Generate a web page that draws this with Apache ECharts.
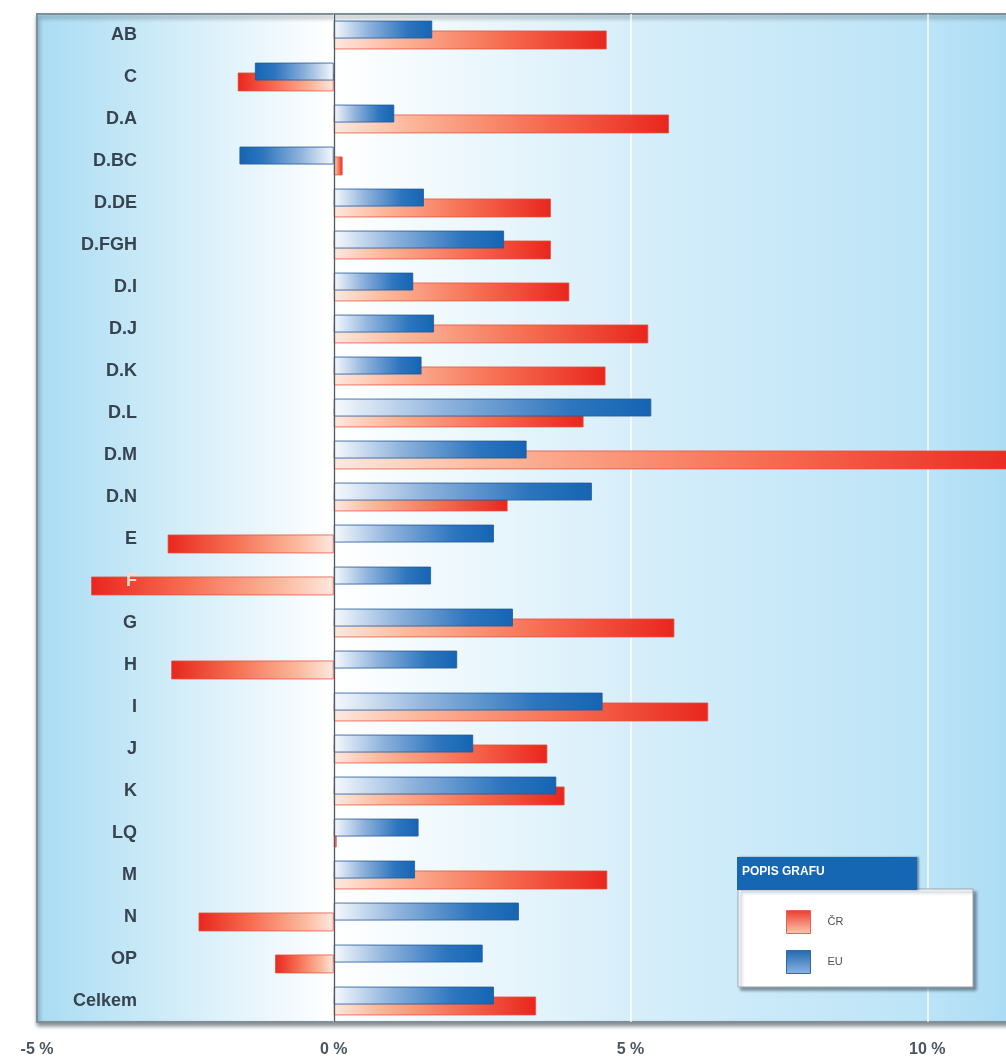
<!DOCTYPE html>
<html>
<head>
<meta charset="utf-8">
<title>Meziroční změna – ČR a EU</title>
<script src="https://cdn.jsdelivr.net/npm/echarts@6/dist/echarts.min.js"></script>
<style>
  html, body { margin: 0; padding: 0; background: #ffffff; }
  #chart { width: 1006px; height: 1060px; }
</style>
</head>
<body>
<div id="chart"></div>
<script>
// Odvětví (sekce a oddíly CZ-NACE)
const categories = ['AB', 'C', 'D.A', 'D.BC', 'D.DE', 'D.FGH', 'D.I', 'D.J', 'D.K', 'D.L',
  'D.M', 'D.N', 'E', 'F', 'G', 'H', 'I', 'J', 'K', 'LQ', 'M', 'N', 'OP', 'Celkem'];

// Hodnoty v procentech
const valuesCR = [4.60, -1.62, 5.65, 0.15, 3.66, 3.66, 3.97, 5.30, 4.58, 4.21,
  11.8, 2.93, -2.80, -4.09, 5.74, -2.74, 6.31, 3.60, 3.89, 0.05, 4.61, -2.28, -0.99, 3.41];
const valuesEU = [1.66, -1.33, 1.02, -1.59, 1.52, 2.87, 1.34, 1.69, 1.48, 5.35,
  3.25, 4.35, 2.70, 1.64, 3.02, 2.08, 4.53, 2.35, 3.75, 1.43, 1.37, 3.12, 2.51, 2.70];

// Popisky osy x
const xTicks = [-5, 0, 5, 10];

const FONT = "'Liberation Sans', Arial, sans-serif";
const LG = echarts.graphic.LinearGradient;

const crStops = [
  { offset: 0, color: '#fee9e0' },
  { offset: 0.22, color: '#fcb89c' },
  { offset: 0.62, color: '#f66c50' },
  { offset: 1, color: '#e8261e' }
];
const euStops = [
  { offset: 0, color: '#f6f9fd' },
  { offset: 0.35, color: '#8fb3dc' },
  { offset: 0.75, color: '#2d75be' },
  { offset: 1, color: '#1565b3' }
];

// Přechod barvy vždy od nuly (světlá) ke konci sloupce (sytá)
function barData(values, stops) {
  return values.map(function (v) {
    const grad = v >= 0 ? new LG(0, 0, 1, 0, stops) : new LG(1, 0, 0, 0, stops);
    return { value: v, itemStyle: { color: grad } };
  });
}

const chart = echarts.init(document.getElementById('chart'), null, { renderer: 'canvas' });

chart.setOption({
  animation: false,
  backgroundColor: '#ffffff',
  textStyle: { fontFamily: FONT },
  grid: {
    left: 37,
    top: 14,
    width: 1009,
    bottom: 38,
    outerBoundsMode: 'none',
    containLabel: false,
    show: true,
    borderColor: '#7f8f9a',
    borderWidth: 2,
    shadowColor: 'rgba(40,50,60,0.55)',
    shadowBlur: 4,
    shadowOffsetX: 1,
    shadowOffsetY: 3,
    backgroundColor: new LG(0, 0, 1, 0, [
      { offset: 0, color: '#a9dcf3' },
      { offset: 0.293, color: '#ffffff' },
      { offset: 0.59, color: '#d6eefa' },
      { offset: 0.88, color: '#bce4f7' },
      { offset: 1, color: '#a3d8f2' }
    ])
  },
  xAxis: {
    type: 'value',
    min: -5,
    max: 12,
    interval: 5,
    axisLine: { show: false },
    axisTick: { show: false },
    splitLine: {
      show: true,
      showMinLine: false,
      lineStyle: { color: 'rgba(255,255,255,0.9)', width: 1.5 }
    },
    axisLabel: {
      margin: 20,
      color: '#4a555f',
      fontSize: 16,
      fontWeight: 'bold',
      fontFamily: FONT,
      formatter: function (v) {
        return xTicks.indexOf(v) >= 0 ? v + ' %' : '';
      }
    }
  },
  yAxis: {
    type: 'category',
    inverse: true,
    data: categories,
    z: 6,
    axisLine: { show: false },
    axisTick: { show: false },
    splitLine: { show: false },
    axisLabel: {
      margin: -100,
      align: 'right',
      padding: [6, 0, 0, 0],
      color: function (v) { return v === 'F' ? '#ffd9cc' : '#37444f'; },
      fontSize: 18,
      fontWeight: 'bold',
      fontFamily: FONT
    }
  },
  legend: {
    show: true,
    orient: 'vertical',
    left: 781,
    top: 905,
    itemWidth: 24,
    itemHeight: 23,
    itemGap: 16,
    icon: 'rect',
    selectedMode: false,
    z: 12,
    textStyle: { color: '#4a5058', fontSize: 11, fontFamily: FONT, padding: [0, 0, 0, 12] },
    data: [
      { name: 'ČR', itemStyle: { color: new LG(0, 0, 0, 1, [
        { offset: 0, color: '#ee3a2c' }, { offset: 1, color: '#fcc9b4' }]),
        borderColor: '#e9614f', borderWidth: 1 } },
      { name: 'EU', itemStyle: { color: new LG(0, 0, 0, 1, [
        { offset: 0, color: '#1e68b2' }, { offset: 1, color: '#8fb4dc' }]),
        borderColor: '#2f6aa6', borderWidth: 1 } }
    ]
  },
  graphic: [
    {
      type: 'rect',
      z: 10,
      shape: { x: 738, y: 889, width: 235, height: 98 },
      style: {
        fill: '#ffffff',
        stroke: '#98a6b0',
        lineWidth: 1,
        shadowColor: 'rgba(40,50,60,0.5)',
        shadowBlur: 3,
        shadowOffsetX: 3,
        shadowOffsetY: 3
      }
    },
    {
      type: 'rect',
      z: 11,
      shape: { x: 737, y: 857, width: 180, height: 33 },
      style: {
        fill: '#1667b3',
        shadowColor: 'rgba(20,40,70,0.5)',
        shadowBlur: 2,
        shadowOffsetX: 2,
        shadowOffsetY: 0
      }
    },
    {
      type: 'text',
      z: 12,
      left: 742,
      top: 866,
      style: {
        text: 'POPIS GRAFU',
        fill: '#ffffff',
        font: 'bold 12px ' + FONT
      }
    }
  ],
  series: [
    {
      name: 'EU',
      type: 'bar',
      z: 3,
      barWidth: 18,
      barGap: '-45%',
      itemStyle: { color: '#1e68b2', borderColor: 'rgba(35,90,150,0.8)', borderWidth: 1 },
      data: barData(valuesEU, euStops),
      markLine: {
        silent: true,
        symbol: ['none', 'none'],
        label: { show: false },
        lineStyle: { color: '#4f5962', width: 1.3, type: 'solid' },
        data: [{ xAxis: 0 }]
      }
    },
    {
      name: 'ČR',
      type: 'bar',
      z: 2,
      barWidth: 19,
      barGap: '-45%',
      itemStyle: { color: '#ee3a2c', borderColor: 'rgba(232,80,60,0.75)', borderWidth: 1 },
      data: barData(valuesCR, crStops)
    }
  ]
});
</script>
</body>
</html>
